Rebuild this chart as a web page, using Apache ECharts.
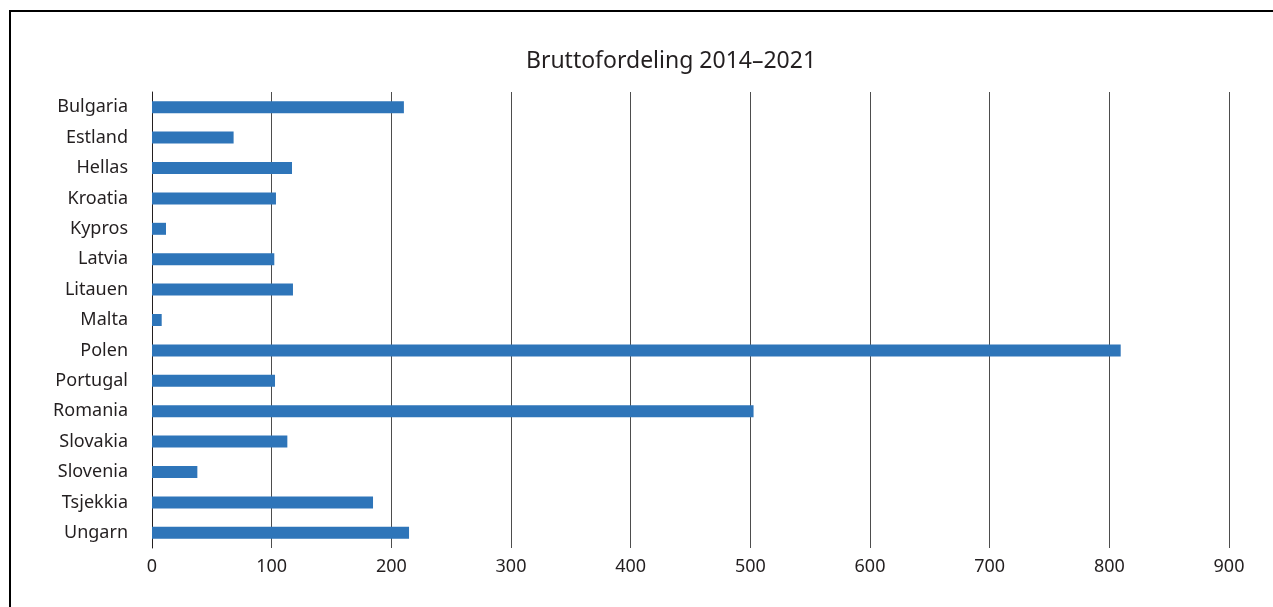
<!DOCTYPE html>
<html><head><meta charset="utf-8">
<script src="https://cdn.jsdelivr.net/npm/echarts@6/dist/echarts.min.js"></script>
<style>
html,body{margin:0;padding:0;background:#fff;}
#frame{position:absolute;left:9px;top:10px;width:1300px;height:700px;border-left:2px solid #000;border-top:2px solid #000;}
#c{position:absolute;left:0;top:0;width:1273px;height:607px;}
</style></head>
<body>
<div id="frame"></div>
<div id="c"></div>
<script>
const categories = ["Bulgaria","Estland","Hellas","Kroatia","Kypros","Latvia","Litauen","Malta","Polen","Portugal","Romania","Slovakia","Slovenia","Tsjekkia","Ungarn"];
const values = [210.5,68.2,117,103.6,11.7,102.2,117.8,8.1,809.5,102.8,502.7,113.1,37.9,184.7,214.8];
const xTicks = [0,100,200,300,400,500,600,700,800,900];
const titleText = "Bruttofordeling 2014\u20132021";

const chart = echarts.init(document.getElementById('c'));
chart.setOption({
  animation:false,
  backgroundColor:'transparent',
  title:{text:titleText,left:666,top:45,textAlign:'center',
    textStyle:{fontFamily:'Noto Sans',fontWeight:'normal',fontSize:23,color:'#231f20'}},
  grid:{left:152,right:44,top:92,bottom:59,containLabel:false},
  xAxis:{type:'value',min:xTicks[0],max:xTicks[xTicks.length-1],interval:100,
    axisLine:{show:false},axisTick:{show:false},
    splitLine:{show:true,lineStyle:{color:'#4d4d4d',width:1}},
    axisLabel:{margin:10,fontFamily:'Noto Sans',fontSize:18,color:'#231f20'}},
  yAxis:{type:'category',data:categories,inverse:true,
    axisLine:{show:true,lineStyle:{color:'#231f20',width:1}},axisTick:{show:false},
    axisLabel:{margin:24,fontFamily:'Noto Sans',fontSize:18,color:'#231f20'}},
  series:[{type:'bar',data:values,barWidth:12,itemStyle:{color:'#2e75b9'}}]
});
</script>
</body></html>
